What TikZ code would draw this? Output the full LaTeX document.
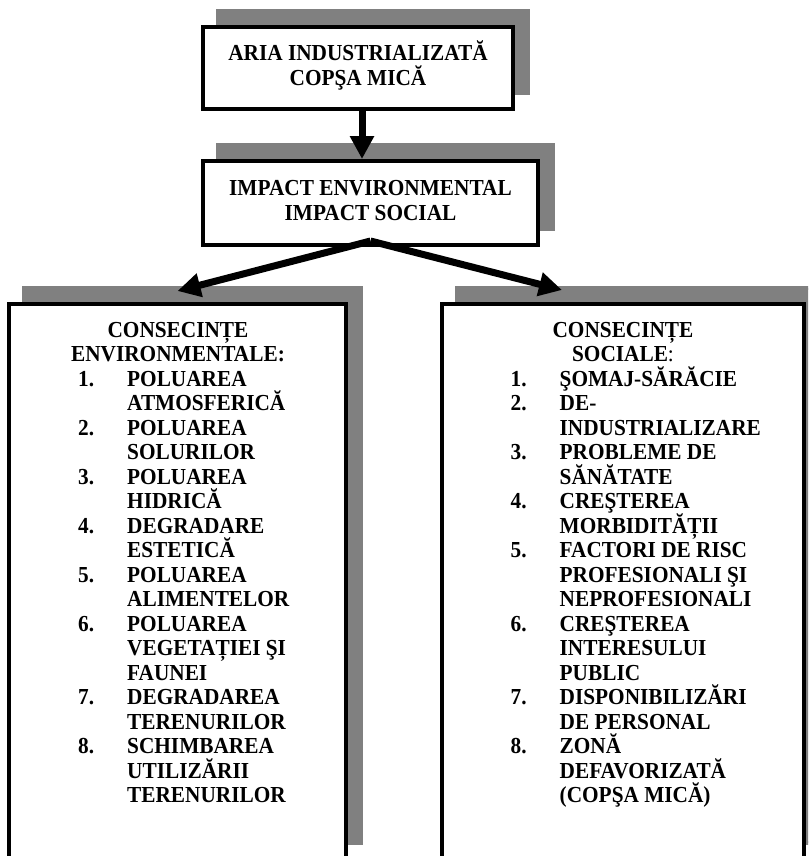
\documentclass[tikz,border=0pt]{standalone}
\usepackage{fontspec}
\setmainfont{Liberation Serif}[FakeStretch=0.93]
\usepackage{array}
\usepackage{tikz}
\usetikzlibrary{arrows.meta,shadows}
\definecolor{sombra}{RGB}{128,128,128}
% columnas sin altura propia: cada fila mide un \baselineskip
\newcolumntype{I}{>{\setbox0=\hbox\bgroup}l<{\egroup\ht0=0pt\relax\dp0=0pt\relax\box0}}
\newcolumntype{C}{>{\setbox0=\hbox\bgroup}c<{\egroup\ht0=0pt\relax\dp0=0pt\relax\box0}}
\tikzset{
  caja/.style={draw, line width=4pt, fill=white, inner sep=0pt,
    drop shadow={shadow xshift=15pt, shadow yshift=16pt, fill=sombra, draw=sombra, opacity=1}},
  texto/.style={inner sep=0pt, font=\fontsize{22.9}{24.5}\selectfont\bfseries},
  flecha/.style={line width=7pt, -{Triangle[width=23pt,length=23pt]}}
}

\begin{document}
\begin{tikzpicture}[x=1pt,y=-1pt]
  \useasboundingbox (0,0) rectangle (808,856);
  \clip (0,0) rectangle (808,856);

  % Cajas de arriba
  \node[caja, texto, minimum width=310pt, minimum height=82pt] (aria) at (358,68)
    {\raisebox{2.5pt}{\begin{tabular}{@{}C@{}}ARIA INDUSTRIALIZATĂ\\COPŞA MICĂ\end{tabular}}};
  \node[caja, texto, minimum width=335pt, minimum height=84pt] (impacto) at (370.5,203)
    {\begin{tabular}{@{}C@{}}IMPACT ENVIRONMENTAL\\IMPACT SOCIAL\end{tabular}};

  % Cajas de abajo
  \node[caja, minimum width=337pt, minimum height=555pt] (env) at (177.5,581.5) {};
  \node[caja, minimum width=362pt, minimum height=555pt] (soc) at (623,581.5) {};

  % Titulos
  \node[texto, anchor=base] (envtit) at (178,337)
    {\begin{tabular}[t]{@{}C@{}}CONSECINȚE\\ENVIRONMENTALE:\end{tabular}};
  \node[texto, anchor=base] (soctit) at (623,337)
    {\begin{tabular}[t]{@{}C@{}}CONSECINȚE\\SOCIALE\textmd{:}\end{tabular}};

  % Listas
  \node[texto, anchor=base west] (envlista) at (78,386)
    {\begin{tabular}[t]{@{}p{49pt}@{}I@{}}
      1. & POLUAREA\\ & ATMOSFERICĂ\\
      2. & POLUAREA\\ & SOLURILOR\\
      3. & POLUAREA\\ & HIDRICĂ\\
      4. & DEGRADARE\\ & ESTETICĂ\\
      5. & POLUAREA\\ & ALIMENTELOR\\
      6. & POLUAREA\\ & VEGETAȚIEI ŞI\\ & FAUNEI\\
      7. & DEGRADAREA\\ & TERENURILOR\\
      8. & SCHIMBAREA\\ & UTILIZĂRII\\ & TERENURILOR
    \end{tabular}};
  \node[texto, anchor=base west] (soclista) at (510.5,386)
    {\begin{tabular}[t]{@{}p{49pt}@{}I@{}}
      1. & ŞOMAJ-SĂRĂCIE\\
      2. & DE-\\ & INDUSTRIALIZARE\\
      3. & PROBLEME DE\\ & SĂNĂTATE\\
      4. & CREŞTEREA\\ & MORBIDITĂȚII\\
      5. & FACTORI DE RISC\\ & PROFESIONALI ŞI\\ & NEPROFESIONALI\\
      6. & CREŞTEREA\\ & INTERESULUI\\ & PUBLIC\\
      7. & DISPONIBILIZĂRI\\ & DE PERSONAL\\
      8. & ZONĂ\\ & DEFAVORIZATĂ\\ & (COPŞA MICĂ)
    \end{tabular}};

  % Flechas
  \draw[flecha] ([xshift=4pt]aria.south) -- ([xshift=4pt]aria.south |- impacto.north);
  \draw[flecha] ([yshift=6pt]impacto.south) -- ([yshift=11pt]env.north);
  \draw[flecha] ([yshift=6pt]impacto.south) -- ([xshift=-61pt,yshift=12pt]soc.north);

\end{tikzpicture}
\end{document}
